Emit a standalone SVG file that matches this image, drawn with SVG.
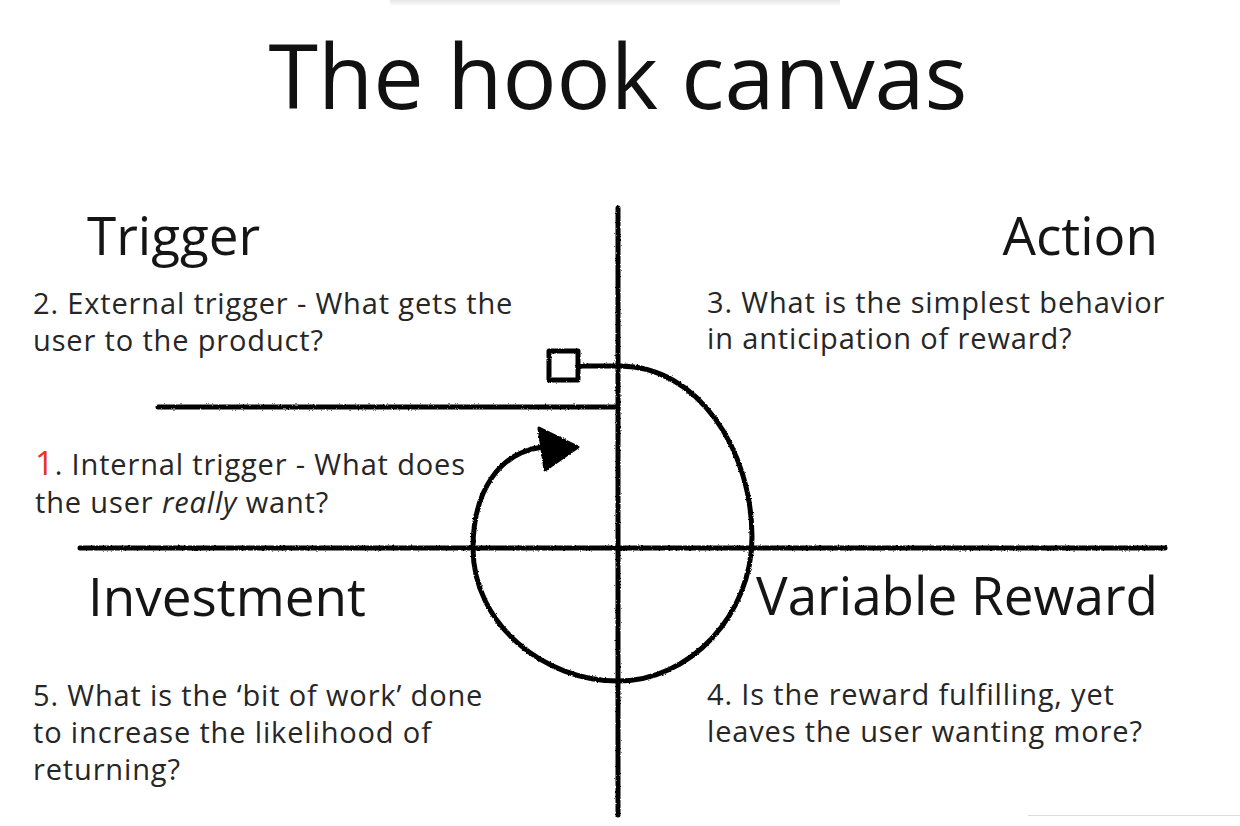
<svg xmlns="http://www.w3.org/2000/svg" width="1240" height="826" viewBox="0 0 1240 826">
  <style>
    .title { font-family: "Open Sans", "Noto Sans", sans-serif; font-size: 90px; fill: #111; }
    .head { font-family: "Open Sans", "Noto Sans", sans-serif; font-size: 53px; fill: #151515; }
    .body { font-family: "Open Sans", "Noto Sans", sans-serif; font-size: 29px; letter-spacing: 0.85px; fill: #262626; }
    .red { fill: #e8341c; }
    .ink { fill: none; stroke: #000; stroke-width: 5; stroke-linecap: round; stroke-linejoin: round; }
  </style>
  <defs>
    <filter id="rough" x="-5%" y="-5%" width="110%" height="110%">
      <feTurbulence type="fractalNoise" baseFrequency="0.6" numOctaves="2" seed="3" result="n"/>
      <feDisplacementMap in="SourceGraphic" in2="n" scale="2.5" xChannelSelector="R" yChannelSelector="G"/>
    </filter>
    <linearGradient id="shade" x1="0" y1="0" x2="0" y2="1">
      <stop offset="0" stop-color="#e6e6e6"/>
      <stop offset="1" stop-color="#ffffff"/>
    </linearGradient>
  </defs>
  <rect width="1240" height="826" fill="#fff"/>
  <rect x="390" y="0" width="450" height="6" fill="url(#shade)"/>
  <line x1="1028" y1="815.5" x2="1240" y2="815.5" stroke="#dcdcdc" stroke-width="1"/>

  <g id="title">
    <text class="title" x="618" y="109" text-anchor="middle">The hook canvas</text>
  </g>

  <g id="connectors" filter="url(#rough)">
    <line class="ink" x1="618" y1="208" x2="618" y2="815"/>
    <line class="ink" x1="80" y1="548" x2="1165" y2="548"/>
    <line class="ink" x1="158" y1="407" x2="618" y2="407"/>
    <rect class="ink" x="549" y="351" width="29" height="29" stroke-width="4.5"/>
    <path class="ink" d="M578,366 L620,366 C698,366 752,450 752,537 C752,615 690,681 618,681 C545,681 473,625 473,548 C473,490 500,452 543,447"/>
    <polygon points="539,428 578,447 545,470" fill="#000" stroke="#000" stroke-width="3" stroke-linejoin="round"/>
  </g>

  <g id="trigger">
    <text class="head" x="87" y="255">Trigger</text>
    <text class="body" x="33" y="314">2. External trigger - What gets the</text>
    <text class="body" x="33" y="351">user to the product?</text>
    <text class="body" x="35" y="475"><tspan class="red" font-size="33">1</tspan>. Internal trigger - What does</text>
    <text class="body" x="35" y="513">the user <tspan font-style="italic">really</tspan> want?</text>
  </g>

  <g id="action">
    <text class="head" x="1158" y="255" text-anchor="end">Action</text>
    <text class="body" x="707" y="313">3. What is the simplest behavior</text>
    <text class="body" x="707" y="349">in anticipation of reward?</text>
  </g>

  <g id="investment">
    <text class="head" x="88" y="616">Investment</text>
    <text class="body" x="33" y="706">5. What is the ‘bit of work’ done</text>
    <text class="body" x="33" y="743">to increase the likelihood of</text>
    <text class="body" x="33" y="780">returning?</text>
  </g>

  <g id="variable-reward">
    <text class="head" x="1158" y="615" text-anchor="end">Variable Reward</text>
    <text class="body" x="707" y="705">4. Is the reward fulfilling, yet</text>
    <text class="body" x="707" y="742">leaves the user wanting more?</text>
  </g>
</svg>
